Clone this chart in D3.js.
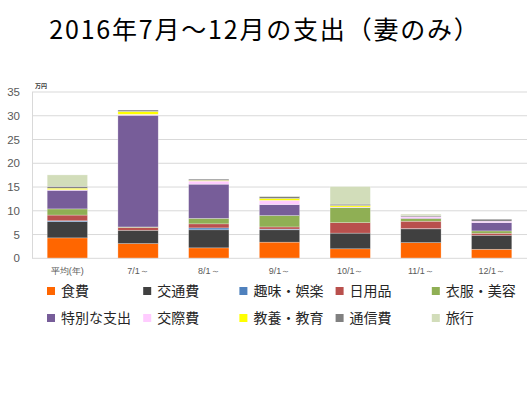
<!DOCTYPE html>
<html>
<head>
<meta charset="utf-8">
<script src="https://cdn.jsdelivr.net/npm/d3@7"></script>
<style>
  body { margin: 0; background: #fff; }
  svg { font-family: "Noto Sans CJK JP", "Noto Sans", sans-serif; }
</style>
</head>
<body>
<svg id="chart" width="529" height="396"></svg>
<script>
// Data (万円)
var categories = ["平均(年)", "7/1～", "8/1～", "9/1～", "10/1～", "11/1～", "12/1～"];
var seriesNames = ["食費", "交通費", "趣味・娯楽", "日用品", "衣服・美容", "特別な支出", "交際費", "教養・教育", "通信費", "旅行"];
var seriesColors = ["#FF6600", "#404040", "#4F81BD", "#B9504D", "#8FAF54", "#775D99", "#FFCCFF", "#FFFF00", "#808080", "#D2DDBA"];

var food      = [4.3, 3.1, 2.2, 3.4, 2.0, 3.3, 1.9];
var transport = [3.4, 2.8, 3.8, 2.6, 3.3, 2.9, 2.95];
var hobby     = [0.2, 0.0, 0.4, 0.15, 0.0, 0.05, 0.0];
var daily     = [1.2, 0.6, 0.85, 0.45, 2.2, 1.55, 0.42];
var clothing  = [1.3, 0.1, 1.15, 2.4, 3.2, 0.55, 0.5];
var special   = [3.9, 23.5, 7.2, 2.3, 0.0, 0.1, 1.75];
var social    = [0.15, 0.2, 0.65, 0.9, 0.1, 0.3, 0.3];
var education = [0.3, 0.6, 0.15, 0.4, 0.3, 0.0, 0.0];
var telecom   = [0.4, 0.3, 0.25, 0.4, 0.3, 0.25, 0.4];
var travel    = [2.4, 0.0, 0.0, 0.1, 3.7, 0.3, 0.0];

var yTicks = [0, 5, 10, 15, 20, 25, 30, 35];

var seriesValues = [food, transport, hobby, daily, clothing, special, social, education, telecom, travel];

// build rows for d3.stack
var rows = categories.map(function (c, i) {
    var r = { cat: c };
    seriesNames.forEach(function (s, j) { r[s] = seriesValues[j][i]; });
    return r;
});

var svg = d3.select("#chart");

var margin = { left: 32, right: 2, top: 92, bottom: 138 };
var width = 529, height = 396;

var x = d3.scaleBand()
    .domain(categories)
    .range([margin.left, width - margin.right])
    .paddingInner(0.43)
    .paddingOuter(0.215);

var y = d3.scaleLinear()
    .domain([0, 35])
    .range([258.3, 92]);

// Title
svg.append("text")
    .attr("x", 265)
    .attr("y", 39)
    .attr("text-anchor", "middle")
    .attr("font-size", "25px")
    .attr("letter-spacing", "1.8px")
    .attr("fill", "#000")
    .text("2016年7月～12月の支出（妻のみ）");

// gridlines
svg.append("g")
    .selectAll("line")
    .data(yTicks.slice(1))
    .enter()
    .append("line")
    .attr("x1", margin.left)
    .attr("x2", width - margin.right)
    .attr("y1", function (d) { return y(d); })
    .attr("y2", function (d) { return y(d); })
    .attr("stroke", "#D9D9D9")
    .attr("stroke-width", 1);

// left axis line
svg.append("line")
    .attr("x1", margin.left + 0.5).attr("x2", margin.left + 0.5)
    .attr("y1", y(35)).attr("y2", y(0))
    .attr("stroke", "#D9D9D9");

// y axis labels
var yAxis = d3.axisLeft(y).tickValues(yTicks).tickSize(0).tickPadding(12);
var gy = svg.append("g")
    .attr("transform", "translate(" + margin.left + ",0)")
    .call(yAxis);
gy.select(".domain").remove();
gy.selectAll("text")
    .attr("font-size", "11.5px")
    .attr("fill", "#595959")
    .attr("font-family", "Liberation Sans, Arial, sans-serif");

// unit label
svg.append("text")
    .attr("x", 35)
    .attr("y", 88)
    .attr("font-size", "6px")
    .attr("font-weight", "bold")
    .attr("fill", "#404040")
    .text("万円");

// stacked bars
var stack = d3.stack().keys(seriesNames);
var stacked = stack(rows);

svg.append("g")
    .selectAll("g")
    .data(stacked)
    .enter()
    .append("g")
    .attr("fill", function (d, i) { return seriesColors[i]; })
    .selectAll("rect")
    .data(function (d) { return d; })
    .enter()
    .append("rect")
    .attr("x", function (d) { return x(d.data.cat); })
    .attr("width", x.bandwidth())
    .attr("y", function (d) { return y(d[1]); })
    .attr("height", function (d) { return y(d[0]) - y(d[1]); })
    .attr("stroke", "#fff")
    .attr("stroke-opacity", 0.45)
    .attr("stroke-width", function (d) { return d[1] - d[0] > 0 ? 0.6 : 0; });

// baseline
svg.append("line")
    .attr("x1", margin.left).attr("x2", width - margin.right)
    .attr("y1", y(0)).attr("y2", y(0))
    .attr("stroke", "#D9D9D9");

// x labels
var xAxis = d3.axisBottom(x).tickSize(0).tickPadding(9);
var gx = svg.append("g")
    .attr("transform", "translate(0," + y(0) + ")")
    .call(xAxis);
gx.select(".domain").remove();
gx.selectAll("text")
    .attr("font-size", "9px")
    .attr("fill", "#595959");

// legend
var legend = svg.append("g");
var item = legend.selectAll("g")
    .data(seriesNames)
    .enter()
    .append("g")
    .attr("transform", function (d, i) {
        var col = i % 5, row = Math.floor(i / 5);
        return "translate(" + (47 + col * 96.2) + "," + (291 + row * 27) + ")";
    });
item.append("rect")
    .attr("x", 0)
    .attr("y", -4)
    .attr("width", 8)
    .attr("height", 8)
    .attr("fill", function (d, i) { return seriesColors[i]; });
item.append("text")
    .attr("x", 14)
    .attr("y", 0)
    .attr("dy", "0.36em")
    .attr("font-size", "14px")
    .attr("fill", "#262626")
    .text(function (d) { return d; });
</script>
</body>
</html>
